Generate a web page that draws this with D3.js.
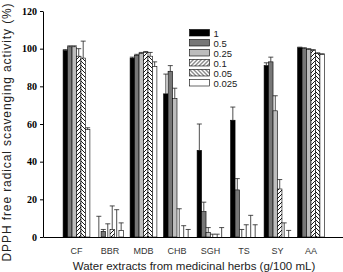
<!DOCTYPE html>
<html>
<head>
<meta charset="utf-8">
<script src="https://cdn.jsdelivr.net/npm/d3@7"></script>
<style>
  body { margin: 0; background: #fff; }
  svg { display: block; }
</style>
</head>
<body>
<svg id="chart" width="343" height="272"></svg>
<script>
// datos
const categorias = ["CF", "BBR", "MDB", "CHB", "SGH", "TS", "SY", "AA"];
const series = ["1", "0.5", "0.25", "0.1", "0.05", "0.025"];

const valores_1     = [99, 0, 95, 76, 46, 62, 91, 100.5];
const valores_05    = [101, 3, 96.5, 88, 13.5, 25, 93, 100];
const valores_025   = [101, 0, 97.5, 73.5, 2.5, 0, 67, 99.5];
const valores_01    = [96, 4, 98, 0, 0, 0, 25.5, 99];
const valores_005   = [95, 0, 96, 0, 0, 0, 0, 97.5];
const valores_0025  = [57, 3.5, 90.5, 0, 0, 0, 0, 97];

const error_1     = [0.5, 11, 0.5, 10.5, 14, 7, 1.5, 0.3];
const error_05    = [0.5, 1, 0.5, 3, 5, 6, 2.5, 0.5];
const error_025   = [0.5, 7, 0.5, 5.5, 2.5, 4, 8, 0.5];
const error_01    = [4, 12.5, 0.5, 15, 1.5, 6.5, 5, 0.5];
const error_005   = [9, 14.5, 2, 6, 1.5, 11.5, 7.5, 0.3];
const error_0025  = [1, 4, 2.5, 4, 5, 6.5, 3.5, 0.3];

const yTicks = [0, 20, 40, 60, 80, 100, 120];

const valoresPorSerie = [valores_1, valores_05, valores_025, valores_01, valores_005, valores_0025];
const erroresPorSerie = [error_1, error_05, error_025, error_01, error_005, error_0025];

const rellenos = ["#000", "#777", "#bdbdbd", "url(#hatch1)", "url(#hatch2)", "#fff"];

const datos = [];
categorias.forEach((c, i) => {
    series.forEach((s, j) => {
        datos.push({ cat: c, serie: s, valor: valoresPorSerie[j][i], err: erroresPorSerie[j][i], idx: j });
    });
});

const svg = d3.select("#chart");

// patrones de rayado
const defs = svg.append("defs");
const p1 = defs.append("pattern").attr("id", "hatch1")
    .attr("patternUnits", "userSpaceOnUse").attr("width", 4).attr("height", 4);
p1.append("rect").attr("width", 4).attr("height", 4).attr("fill", "#fff");
p1.append("path").attr("d", "M-1,1 l2,-2 M0,4 l4,-4 M3,5 l2,-2")
    .attr("stroke", "#000").attr("stroke-width", 0.9);
const p2 = defs.append("pattern").attr("id", "hatch2")
    .attr("patternUnits", "userSpaceOnUse").attr("width", 4).attr("height", 4);
p2.append("rect").attr("width", 4).attr("height", 4).attr("fill", "#fff");
p2.append("path").attr("d", "M-1,3 l2,2 M0,0 l4,4 M3,-1 l2,2")
    .attr("stroke", "#000").attr("stroke-width", 0.9);

const x = d3.scaleBand()
    .domain(categorias)
    .range([43, 344.5])
    .paddingInner(0.2)
    .paddingOuter(0.6);

const xs = d3.scaleBand()
    .domain(series)
    .range([0, x.bandwidth()]);

const y = d3.scaleLinear()
    .domain([0, 120])
    .range([237, 11]);

// barras
svg.append("g")
    .selectAll("rect")
    .data(datos)
    .join("rect")
    .attr("x", d => x(d.cat) + xs(d.serie))
    .attr("y", d => y(d.valor))
    .attr("width", xs.bandwidth())
    .attr("height", d => y(0) - y(d.valor))
    .attr("fill", d => rellenos[d.idx])
    .attr("stroke", "#000")
    .attr("stroke-width", 0.6);

// barras de error (solo hacia arriba)
const eb = svg.append("g").attr("stroke", "#222").attr("stroke-width", 0.8);
datos.forEach(d => {
    const cx = x(d.cat) + xs(d.serie) + xs.bandwidth() / 2;
    eb.append("line")
        .attr("x1", cx).attr("x2", cx)
        .attr("y1", y(d.valor)).attr("y2", y(d.valor + d.err));
    eb.append("line")
        .attr("x1", cx - 2.5).attr("x2", cx + 2.5)
        .attr("y1", y(d.valor + d.err)).attr("y2", y(d.valor + d.err));
});

// Eje Y
const ejeY = svg.append("g")
    .attr("transform", `translate(43,0)`)
    .call(d3.axisLeft(y).tickValues(yTicks).tickSize(3).tickSizeOuter(0));
ejeY.selectAll("text")
    .style("font-family", "'Liberation Serif', 'Times New Roman', serif")
    .style("font-weight", "bold")
    .style("font-size", "10px")
    .attr("fill", "#000");

// Eje X
const ejeX = svg.append("g")
    .attr("transform", `translate(0,${y(0)})`)
    .call(d3.axisBottom(x).tickSize(0).tickSizeOuter(0).tickPadding(11));
ejeX.select(".domain").attr("stroke-width", 1.2);
ejeX.selectAll("text")
    .style("font-family", "'Liberation Sans', Arial, sans-serif")
    .style("font-size", "9px")
    .attr("fill", "#333");

// titulos
svg.append("text")
    .attr("transform", "translate(11,132) rotate(-90)")
    .attr("text-anchor", "middle")
    .style("font-family", "'Liberation Sans', Arial, sans-serif")
    .style("font-size", "12px")
    .style("letter-spacing", "0.9px")
    .attr("fill", "#222")
    .text("DPPH free radical scavenging activity (%)");

svg.append("text")
    .attr("x", 194)
    .attr("y", 269.5)
    .attr("text-anchor", "middle")
    .style("font-family", "'Liberation Sans', Arial, sans-serif")
    .style("font-size", "11.5px")
    .attr("fill", "#222")
    .text("Water extracts from medicinal herbs (g/100 mL)");

// Leyenda
const leyenda = svg.append("g").attr("transform", "translate(189.5, 29.5)");
series.forEach((s, i) => {
    const fila = leyenda.append("g").attr("transform", `translate(0, ${i * 10})`);
    fila.append("rect")
        .attr("width", 20).attr("height", 6.5)
        .attr("fill", rellenos[i])
        .attr("stroke", "#000").attr("stroke-width", 0.6);
    fila.append("text")
        .attr("x", 24).attr("y", 7)
        .text(s)
        .style("font-family", "'Liberation Sans', Arial, sans-serif")
        .style("font-size", "9.5px")
        .attr("fill", "#222");
});
</script>
</body>
</html>
